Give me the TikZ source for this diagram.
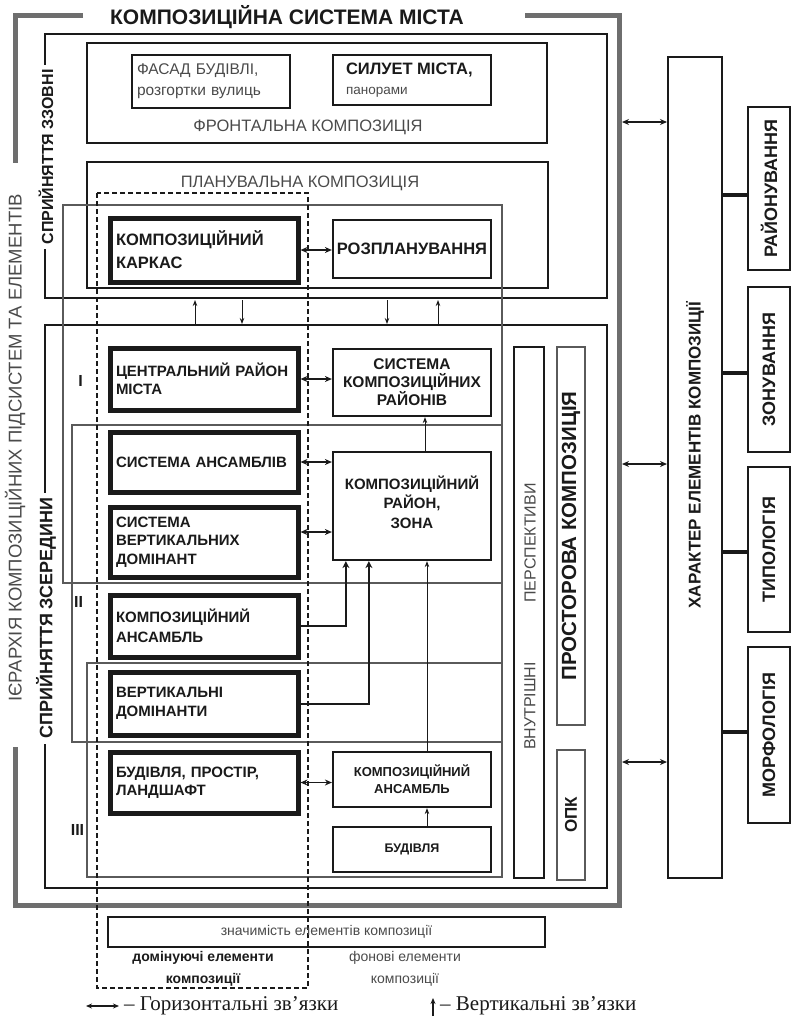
\documentclass[tikz,border=0pt]{standalone}
\usepackage{fontspec}
\usepackage{graphicx}
\setmainfont{Liberation Sans}
\newfontfamily\legfont{Liberation Serif}
\usetikzlibrary{arrows.meta,calc}
\definecolor{framegray}{HTML}{6E6E6E}
\definecolor{txtgray}{HTML}{4A4A4A}
\definecolor{linegray}{HTML}{5A5A5A}
\definecolor{ink}{HTML}{1A1A1A}
\newcommand\fsz[2]{\fontsize{#1}{#2}\selectfont}
\begin{document}
\begin{tikzpicture}[x=1pt,y=-1pt,
  graybar/.style={line width=5pt, draw=framegray},
  frameline/.style={line width=2.5pt, draw=ink},
  levelrect/.style={line width=1.2pt, draw=linegray},
  thickbox/.style={draw=ink, line width=5pt, minimum width=188pt, text width=176pt, align=left, inner sep=0pt, font=\bfseries\fsz{15}{18.5}, text=ink},
  rbox/.style={draw=ink, line width=2.2pt, minimum width=158pt, align=center, inner sep=0pt, font=\bfseries\fsz{15.5}{18}, text=ink},
  sbox/.style={draw=ink, line width=2.4pt, minimum width=42pt, inner sep=0pt, font=\bfseries\fsz{18}{20}, text=ink},
  framelabel/.style={fill=white, rotate=90, text=ink, inner xsep=5pt, inner ysep=1pt},
  harrow/.style={draw=ink, line width=1.8pt, {Stealth[length=7pt,width=6pt]}-{Stealth[length=7pt,width=6pt]}},
  varrow/.style={draw=ink, line width=1pt, -{Stealth[length=6pt,width=4.5pt]}},
  earrow/.style={draw=ink, line width=2pt, -{Stealth[length=7pt,width=7pt]}},
  tlink/.style={draw=ink, line width=4pt},
]
\useasboundingbox (0,0) rectangle (793,1026);

% ---------- gray hierarchy frame
\draw[graybar] (83,15) -- (15,15) -- (15,163);
\draw[graybar] (15,747) -- (15,905) -- (619,905) -- (619,15) -- (525,15);
\node[font=\bfseries\fsz{21}{24}, text=ink] (title) at (287,17) {КОМПОЗИЦІЙНА СИСТЕМА МІСТА};
\node[rotate=90, font=\fsz{18.5}{20}, text=txtgray] (hier) at (15,448) {ІЄРАРХІЯ КОМПОЗИЦІЙНИХ ПІДСИСТЕМ ТА ЕЛЕМЕНТІВ};

% ---------- perception frames
\draw[frameline] (45,34) rectangle (607,298);
\draw[frameline] (45,325) rectangle (607,888);
\node[framelabel, font=\bfseries\fsz{16}{18}] (lblout) at (46,157) {СПРИЙНЯТТЯ ЗЗОВНІ};
\node[framelabel, font=\bfseries\fsz{18}{20}] (lblin) at (46,618) {СПРИЙНЯТТЯ ЗСЕРЕДИНИ};

% ---------- frontal composition
\draw[line width=2pt, draw=ink] (87,43) rectangle (547,143);
\node[draw=ink, line width=2pt, minimum width=158pt, minimum height=53pt, text width=148pt, align=left, inner sep=0pt, font=\fsz{15.5}{21}, text=txtgray] (fasad) at (211,81.5) {ФАСАД БУДІВЛІ,\\розгортки вулиць};
\node[draw=ink, line width=2pt, minimum width=158pt, minimum height=50pt, text width=132pt, align=left, inner sep=0pt, font=\fsz{13.5}{20}, text=ink] (silu) at (412,80) {{\bfseries\fsz{16.5}{20}СИЛУЕТ МІСТА,}\\{\color{txtgray}панорами}};
\node[font=\fsz{16.5}{18}, text=txtgray] (front) at (308,127) {ФРОНТАЛЬНА КОМПОЗИЦІЯ};

% ---------- planning composition
\draw[line width=1.5pt, draw=ink] (87,162) rectangle (548,288);
\node[font=\fsz{16.5}{18}, text=txtgray] (plan) at (300,183) {ПЛАНУВАЛЬНА КОМПОЗИЦІЯ};

% ---------- levels
\draw[levelrect] (63,205) rectangle (502,583);
\draw[levelrect] (72,425) rectangle (502,742);
\draw[levelrect] (87,663) rectangle (502,877);
\node[font=\bfseries\fsz{16}{18}, text=ink] (lv1) at (80.5,381) {I};
\node[font=\bfseries\fsz{16}{18}, text=ink] (lv2) at (78.5,602) {II};
\node[font=\bfseries\fsz{16}{18}, text=ink] (lv3) at (77.5,830) {III};

% ---------- dominant elements (dashed)
\draw[draw=ink, line width=1.2pt, dash pattern=on 5pt off 3pt] (97,193) rectangle (308,988);

% ---------- thick boxes
\node[thickbox, minimum height=64pt, font=\bfseries\fsz{16.5}{23}] (kark) at (204,250) {КОМПОЗИЦІЙНИЙ\\ КАРКАС};
\node[thickbox, minimum height=62pt] (centr) at (204,379) {ЦЕНТРАЛЬНИЙ РАЙОН\\МІСТА};
\node[thickbox, minimum height=60pt] (sans) at (204,462) {СИСТЕМА АНСАМБЛІВ};
\node[thickbox, minimum height=70pt] (svd) at (204,542) {СИСТЕМА\\ВЕРТИКАЛЬНИХ\\ДОМІНАНТ};
\node[thickbox, minimum height=62pt, font=\bfseries\fsz{15}{20}] (kans) at (204,626) {КОМПОЗИЦІЙНИЙ\\АНСАМБЛЬ};
\node[thickbox, minimum height=63pt] (vdom) at (204,703.5) {ВЕРТИКАЛЬНІ\\ДОМІНАНТИ};
\node[thickbox, minimum height=61pt] (bpl) at (204,782.5) {БУДІВЛЯ, ПРОСТІР,\\ЛАНДШАФТ};

% ---------- right boxes
\node[rbox, minimum height=58pt, font=\bfseries\fsz{16.5}{18}] (rozpl) at (412,249) {РОЗПЛАНУВАННЯ};
\node[rbox, minimum height=67pt] (skr) at (412,382.5) {СИСТЕМА\\КОМПОЗИЦІЙНИХ\\РАЙОНІВ};
\node[rbox, minimum height=108pt, text depth=8pt, font=\bfseries\fsz{15}{19.5}] (kraion) at (412,506) {КОМПОЗИЦІЙНИЙ\\РАЙОН,\\ЗОНА};
\node[rbox, minimum height=55pt, font=\bfseries\fsz{13}{17}] (rans) at (412,779.5) {КОМПОЗИЦІЙНИЙ\\АНСАМБЛЬ};
\node[rbox, minimum height=45pt, font=\bfseries\fsz{12.5}{16}] (bud) at (412,849.5) {БУДІВЛЯ};

% ---------- horizontal links
\coordinate (svdE) at ($(svd.east)+(0,-10)$);
\draw[harrow] (kark.east) -- (kark.east -| rozpl.west);
\draw[harrow] (centr.east) -- (centr.east -| skr.west);
\draw[harrow] (sans.east) -- (sans.east -| kraion.west);
\draw[harrow] (svdE) -- (svdE -| kraion.west);
\draw[harrow] (bpl.east) -- (bpl.east -| rans.west);
\draw[earrow] (kans.east) -| ($(kraion.south west)+(14,0)$);
\draw[earrow] (vdom.east) -| ($(kraion.south west)+(37,0)$);

% ---------- vertical links
\draw[varrow] ($(rans.north)+(15,0)$) -- ($(kraion.south)+(15,0)$);
\draw[varrow] ($(bud.north)+(15,0)$) -- ($(rans.south)+(15,0)$);
\draw[varrow] ($(kraion.north)+(13,0)$) -- ($(skr.south)+(13,0)$);

% ---------- links between the two frames
\coordinate (fa1) at (195,324); \coordinate (fa2) at (195,300);
\coordinate (fb1) at (242,300); \coordinate (fb2) at (242,324);
\coordinate (fc1) at (387,300); \coordinate (fc2) at (387,324);
\coordinate (fd1) at (438,324); \coordinate (fd2) at (438,300);
\draw[varrow] (fa1) -- (fa2);
\draw[varrow] (fb1) -- (fb2);
\draw[varrow] (fc1) -- (fc2);
\draw[varrow] (fd1) -- (fd2);

% ---------- inner right column
\node[draw=ink, line width=2pt, minimum width=30pt, minimum height=531pt, inner sep=0pt] (vnbox) at (529,612.5) {};
\node[rotate=90, font=\fsz{16}{18}, text=txtgray] (vn1) at (530,706) {ВНУТРІШНІ};
\node[rotate=90, font=\fsz{16}{18}, text=txtgray] (vn2) at (530,543) {ПЕРСПЕКТИВИ};
\node[draw=linegray, line width=1.5pt, minimum width=28pt, minimum height=378pt, inner sep=0pt, font=\bfseries\fsz{20.5}{22}, text=ink] (prost) at (571,536) {\rotatebox{90}{ПРОСТОРОВА КОМПОЗИЦІЯ}};
\node[draw=linegray, line width=1.5pt, minimum width=28pt, minimum height=130pt, inner sep=0pt, font=\bfseries\fsz{17}{18}, text=ink] (opk) at (571,815) {\rotatebox{90}{ОПК}};

% ---------- character of elements
\node[draw=ink, line width=2pt, minimum width=54pt, minimum height=821pt, inner sep=0pt] (char) at (695,467.5) {};
\node[rotate=90, font=\bfseries\fsz{17}{18}, text=ink] (chart) at (695,455) {ХАРАКТЕР ЕЛЕМЕНТІВ КОМПОЗИЦІЇ};
\coordinate (g1) at (622,122);
\coordinate (g2) at (622,464);
\coordinate (g3) at (622,762);
\draw[harrow] (g1) -- (g1 -| char.west);
\draw[harrow] (g2) -- (g2 -| char.west);
\draw[harrow] (g3) -- (g3 -| char.west);

\node[sbox, minimum height=163pt] (rai) at (769,188.5) {\rotatebox{90}{РАЙОНУВАННЯ}};
\node[sbox, minimum height=165pt] (zon) at (769,369.5) {\rotatebox{90}{ЗОНУВАННЯ}};
\node[sbox, minimum height=165pt] (typ) at (769,549.5) {\rotatebox{90}{ТИПОЛОГІЯ}};
\node[sbox, minimum height=176pt] (morph) at (769,735) {\rotatebox{90}{МОРФОЛОГІЯ}};
\coordinate (t1) at (0,195);
\coordinate (t2) at (0,373);
\coordinate (t3) at (0,552);
\coordinate (t4) at (0,732);
\draw[tlink] (char.east |- t1) -- (rai.west |- t1);
\draw[tlink] (char.east |- t2) -- (zon.west |- t2);
\draw[tlink] (char.east |- t3) -- (typ.west |- t3);
\draw[tlink] (char.east |- t4) -- (morph.west |- t4);

% ---------- bottom
\node[draw=ink, line width=2.5pt, minimum width=437pt, minimum height=30pt, inner sep=0pt, font=\fsz{14}{16}, text=txtgray] (znach) at (326.5,932) {значимість елементів композиції};
\node[font=\bfseries\fsz{14}{22}, text=ink, align=center] (dom) at (203,969) {домінуючі елементи\\композиції};
\node[font=\fsz{14}{22}, text=txtgray, align=center] (fon) at (405,969) {фонові елементи\\композиції};

% ---------- legend
\coordinate (lh1) at (86,1006);
\coordinate (lh2) at (119,1006);
\draw[draw=ink, line width=1.2pt, {Stealth[length=6pt,width=5pt]}-{Stealth[length=6pt,width=5pt]}] (lh1) -- (lh2);
\node[anchor=west, font=\legfont\fsz{21}{24}, text=ink, inner sep=0pt] (leg1) at (124,1006) {– Горизонтальні зв’язки};
\coordinate (lv1a) at (433,1016);
\coordinate (lv2a) at (433,998);
\draw[draw=ink, line width=1.2pt, -{Stealth[length=6pt,width=5pt]}] (lv1a) -- (lv2a);
\node[anchor=west, font=\legfont\fsz{21}{24}, text=ink, inner sep=0pt] (leg2) at (440,1006) {– Вертикальні зв’язки};
\end{tikzpicture}
\end{document}
